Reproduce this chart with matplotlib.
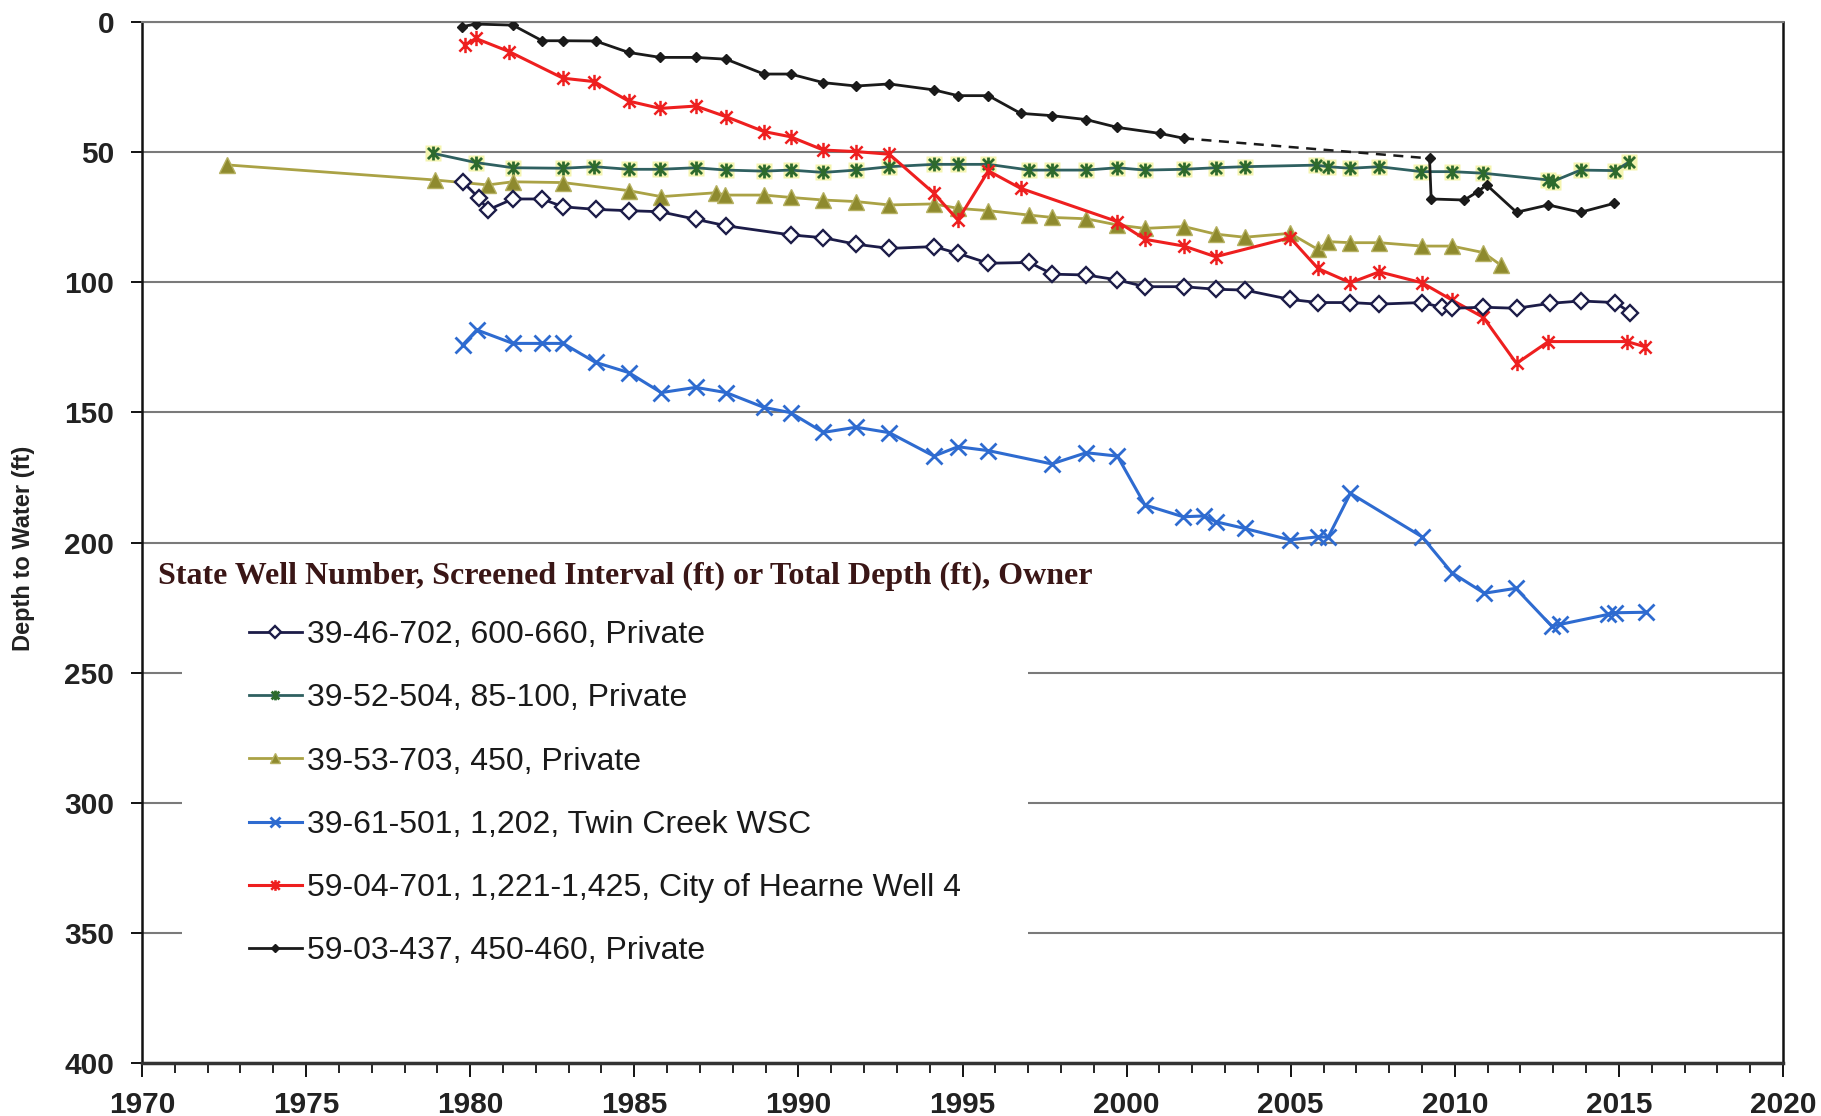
import matplotlib
matplotlib.use('Agg')
import matplotlib.pyplot as plt
from matplotlib.path import Path

# 数据：年份（小数年）和水位埋深 (ft)
yr_702 = [1979.77, 1980.28, 1980.54, 1981.30, 1982.19, 1982.83, 1983.82, 1984.83, 1985.79, 1986.87,
          1987.80, 1989.76, 1990.76, 1991.76, 1992.77, 1994.13, 1994.86, 1995.79, 1997.04, 1997.74,
          1998.77, 1999.72, 2000.56, 2001.75, 2002.71, 2003.60, 2004.98, 2005.83, 2006.82, 2007.70,
          2008.99, 2009.60, 2009.91, 2010.87, 2011.88, 2012.91, 2013.83, 2014.89, 2015.35]
d_702 = [61.4, 67.8, 72.2, 68.0, 68.0, 71.0, 72.0, 72.5, 72.9, 75.8,
         78.3, 81.8, 82.9, 85.4, 87.0, 86.3, 88.9, 92.7, 92.4, 96.9,
         97.2, 99.1, 101.7, 101.7, 102.7, 103.0, 106.6, 107.8, 107.8, 108.4,
         107.8, 109.6, 110.0, 109.6, 110.0, 108.1, 107.2, 107.8, 111.7]

yr_504 = [1978.88, 1980.17, 1981.30, 1982.83, 1983.78, 1984.83, 1985.79, 1986.87, 1987.80, 1988.95,
          1989.76, 1990.76, 1991.76, 1992.77, 1994.13, 1994.86, 1995.79, 1997.04, 1997.74, 1998.77,
          1999.72, 2000.56, 2001.75, 2002.71, 2003.60, 2005.77, 2006.14, 2006.82, 2007.70, 2008.98,
          2009.91, 2010.87, 2012.85, 2012.98, 2013.83, 2014.89, 2015.32]
d_504 = [50.5, 54.0, 56.0, 56.2, 55.6, 56.6, 56.6, 56.0, 56.9, 57.3,
         56.9, 57.8, 56.9, 55.6, 54.7, 54.7, 54.7, 56.9, 56.9, 56.9,
         56.0, 56.9, 56.6, 56.0, 55.6, 55.0, 55.6, 56.2, 55.6, 57.5,
         57.5, 58.1, 60.7, 61.3, 56.9, 57.1, 53.7]

yr_703 = [1972.58, 1978.92, 1980.54, 1981.30, 1982.83, 1984.83, 1985.82, 1987.49, 1987.76, 1988.95,
          1989.76, 1990.76, 1991.76, 1992.77, 1994.13, 1994.86, 1995.79, 1997.04, 1997.74, 1998.77,
          1999.72, 2000.56, 2001.75, 2002.71, 2003.60, 2004.98, 2005.83, 2006.14, 2006.82, 2007.70,
          2008.99, 2009.91, 2010.87, 2011.40]
d_703 = [54.9, 60.7, 62.6, 61.4, 61.7, 64.8, 67.1, 65.6, 66.5, 66.5,
         67.4, 68.4, 69.0, 70.3, 69.9, 71.6, 72.5, 74.2, 75.1, 75.6,
         78.0, 79.3, 78.6, 81.5, 82.7, 81.2, 87.4, 84.4, 84.8, 84.8,
         86.1, 86.1, 88.6, 93.4]

yr_501 = [1979.77, 1980.20, 1981.30, 1982.19, 1982.83, 1983.82, 1984.83, 1985.82, 1986.87, 1987.80,
          1988.95, 1989.76, 1990.76, 1991.76, 1992.77, 1994.13, 1994.86, 1995.79, 1997.72, 1998.77,
          1999.72, 2000.56, 2001.72, 2002.37, 2002.71, 2003.60, 2004.98, 2005.83, 2006.14, 2006.82,
          2009.00, 2009.91, 2010.90, 2011.86, 2012.95, 2013.20, 2014.68, 2014.88, 2015.82]
d_501 = [124.1, 118.3, 123.5, 123.5, 123.5, 130.8, 134.7, 142.4, 140.4, 142.4,
         148.1, 150.1, 157.7, 155.7, 157.8, 166.8, 163.2, 164.7, 169.8, 165.5,
         166.8, 185.6, 190.1, 189.8, 192.0, 194.6, 199.0, 197.8, 198.0, 181.1,
         197.8, 211.6, 219.5, 217.6, 232.1, 231.5, 227.6, 227.0, 226.8]

yr_701 = [1979.83, 1980.17, 1981.19, 1982.83, 1983.78, 1984.83, 1985.79, 1986.87, 1987.80, 1988.95,
          1989.76, 1990.76, 1991.76, 1992.77, 1994.13, 1994.86, 1995.79, 1996.77, 1999.72, 2000.56,
          2001.75, 2002.71, 2004.98, 2005.83, 2006.82, 2007.70, 2009.00, 2009.91, 2010.87, 2011.88,
          2012.85, 2015.25, 2015.80]
d_701 = [9.0, 6.3, 11.4, 21.6, 22.9, 30.4, 33.2, 32.3, 36.4, 42.1,
         44.1, 49.2, 49.8, 50.8, 65.8, 76.1, 57.2, 63.9, 76.7, 83.5,
         86.1, 90.2, 82.9, 94.7, 100.2, 96.0, 100.2, 106.8, 113.5, 131.2,
         122.8, 122.8, 124.8]

yr_437 = [1979.74, 1980.17, 1981.30, 1982.19, 1982.83, 1983.82, 1984.83, 1985.79, 1986.87, 1987.80,
          1988.95, 1989.76, 1990.76, 1991.76, 1992.77, 1994.13, 1994.86, 1995.79, 1996.77, 1997.74,
          1998.77, 1999.72, 2001.01, 2001.75, 2009.23, 2009.28, 2010.29, 2010.70, 2010.97, 2011.88,
          2012.85, 2013.83, 2014.85]
d_437 = [1.8, 0.8, 1.2, 7.2, 7.2, 7.3, 11.7, 13.6, 13.6, 14.3,
         20.0, 20.0, 23.3, 24.6, 23.8, 26.1, 28.3, 28.3, 35.1, 36.0,
         37.5, 40.5, 42.8, 44.7, 52.4, 68.0, 68.4, 65.2, 62.6, 73.1,
         70.3, 73.1, 69.7]
gap_437 = 23  # 2001.75 到 2009.23 之间为虚线

labels = ['39-46-702, 600-660, Private',
          '39-52-504, 85-100, Private',
          '39-53-703, 450, Private',
          '39-61-501, 1,202, Twin Creek WSC',
          '59-04-701, 1,221-1,425, City of Hearne Well 4',
          '59-03-437, 450-460, Private']
legend_title = 'State Well Number, Screened Interval (ft) or Total Depth (ft), Owner'

# 星号标记（X 加竖线）
star = Path([(-1, -1), (1, 1), (-1, 1), (1, -1), (0, -1.25), (0, 1.25)],
            [Path.MOVETO, Path.LINETO, Path.MOVETO, Path.LINETO, Path.MOVETO, Path.LINETO])

fig = plt.figure(figsize=(18.21, 11.16), dpi=100)
ax = fig.add_axes([142 / 1821, 1 - 1063 / 1116, (1783 - 142) / 1821, (1063 - 22) / 1116])

h1, = ax.plot(yr_702, d_702, color='#1c1c48', lw=2.0, marker='D', ms=8.5,
              mfc='white', mec='#1c1c48', mew=1.7, zorder=4)
ax.plot(yr_504, d_504, ls='none', marker='s', ms=12, mfc='#f4f4b0', mec='none', zorder=3)
h2, = ax.plot(yr_504, d_504, color='#2f6060', lw=2.0, marker=star, ms=10,
              mec='#2d6a2d', mew=2.0, zorder=3)
h3, = ax.plot(yr_703, d_703, color='#aaa245', lw=2.0, marker='^', ms=11,
              mfc='#8e8a2e', mec='#b5b060', mew=1.0, zorder=3)
h4, = ax.plot(yr_501, d_501, color='#2e6bd0', lw=2.2, marker='x', ms=11, mew=2.0, zorder=3)
h5, = ax.plot(yr_701, d_701, color='#ee1f1f', lw=2.2, marker=star, ms=11,
              mec='#ee1f1f', mew=1.8, zorder=3)
h6, = ax.plot(yr_437[:gap_437 + 1], d_437[:gap_437 + 1], color='#1a1a1a', lw=2.0,
              marker='D', ms=5.5, zorder=5)
ax.plot(yr_437[gap_437:gap_437 + 2], d_437[gap_437:gap_437 + 2], color='#1a1a1a', lw=1.8,
        ls=(0, (4, 3)), zorder=5)
ax.plot(yr_437[gap_437 + 1:], d_437[gap_437 + 1:], color='#1a1a1a', lw=2.0,
        marker='D', ms=5.5, zorder=5)

ax.set_xlim(1970, 2020)
ax.set_ylim(400, 0)
ax.set_xticks(range(1970, 2021, 5))
ax.set_xticks(range(1970, 2021), minor=True)
ax.set_yticks(range(0, 401, 50))
ax.grid(axis='y', color='#7a7a7a', lw=1.5)
ax.set_axisbelow(True)

for s in ['left', 'right']:
    ax.spines[s].set_color('#111111')
    ax.spines[s].set_linewidth(1.8)
ax.spines['top'].set_color('#7a7a7a')
ax.spines['top'].set_linewidth(1.5)
ax.spines['bottom'].set_color('#333333')
ax.spines['bottom'].set_linewidth(2.5)

ax.tick_params(axis='y', direction='out', length=8, width=1.3, pad=12)
ax.tick_params(axis='x', which='major', direction='out', length=10, width=1.3, pad=10)
ax.tick_params(axis='x', which='minor', direction='out', length=7, width=1.2)
for lab in ax.get_xticklabels() + ax.get_yticklabels():
    lab.set_fontfamily('Liberation Sans')
    lab.set_fontweight('bold')
    lab.set_fontsize(21.5)
    lab.set_color('#222222')

fig.text(24 / 1821, 1 - 548 / 1116, 'Depth to Water (ft)', rotation=90, ha='center', va='center',
         family='Liberation Sans', weight='bold', fontsize=17, color='#222222')

# 图例
leg = ax.legend([h1, h2, h3, h4, h5, h6], labels,
                loc='upper left', bbox_to_anchor=(182 / 1821, 1 - 553 / 1116),
                bbox_transform=fig.transFigure, borderaxespad=0, borderpad=2.1,
                frameon=True, fancybox=False, edgecolor='none', facecolor='white', framealpha=1,
                prop={'family': 'Liberation Sans', 'size': 23},
                handlelength=1.65, handletextpad=0.15, labelspacing=1.04, markerscale=0.7)
for t in leg.get_texts():
    t.set_color('#1a1a1a')
fig.text(158 / 1821, 1 - 576 / 1116, legend_title, ha='left', va='center',
         family='Liberation Serif', weight='bold', fontsize=23, color='#3a1616')

fig.savefig('out.png', dpi=100)
